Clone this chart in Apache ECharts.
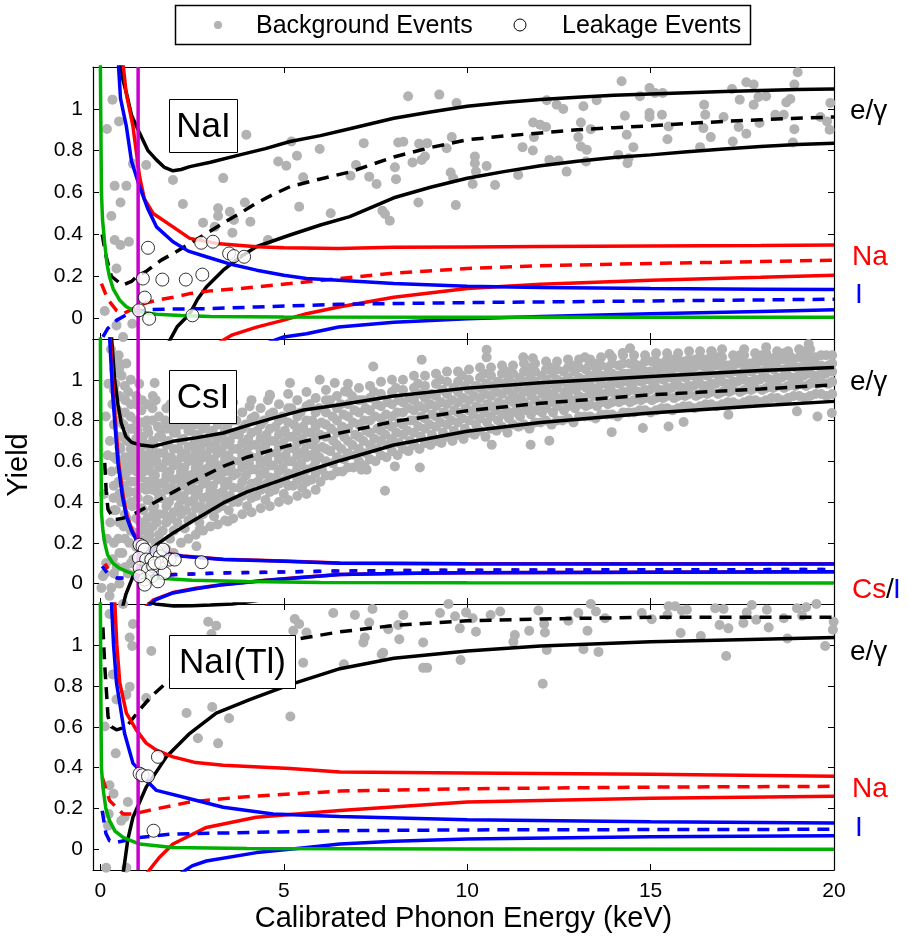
<!DOCTYPE html>
<html><head><meta charset="utf-8">
<script src="https://cdn.jsdelivr.net/npm/echarts@6/dist/echarts.min.js"></script>
<style>html,body{margin:0;padding:0;background:#fff}#c{width:908px;height:944px}</style>
</head><body><div id="c"></div>
<script>
// ---------- axes / ticks ----------
const xTicks = [0, 5, 10, 15, 20];
const yTicks = [0, 0.2, 0.4, 0.6, 0.8, 1];
const xRange = [-0.2, 20];
const yRange = [-0.1, 1.2];
const thresholdX = 1.03;
const panelNames = ['NaI', 'CsI', 'NaI(Tl)'];
const legendNames = ['Background Events', 'Leakage Events'];

// ---------- NaI ----------
const naiBg = [[0.33,1.044],[0.51,0.94],[0.18,0.904],[0.39,0.632],[0.71,0.632],[0.89,0.737],[1.25,0.732],[0.55,0.552],[0.3,0.488],[0.39,0.373],[0.55,0.349],[0.78,0.365],[0.44,0.237],[0.12,0.034],[0.44,-0.035],[0.87,-0.027],[0.62,-0.091],[1.98,0.66],[2.25,0.545],[2.8,0.456],[3.21,0.525],[3.21,0.488],[3.53,0.508],[3.64,0.469],[3.12,0.436],[3.6,0.408],[3.94,0.552],[4.09,0.46],[3.98,0.876],[4.57,0.373],[4.85,0.748],[5.07,0.728],[5.36,0.776],[5.21,0.844],[5.42,0.532],[5.53,0.673],[5.98,0.808],[6.28,0.501],[3.35,0.669],
[8.39,1.06],[9.24,1.068],[9.71,1.028],[7.18,0.836],[6.97,0.732],[6.82,0.68],[7.33,0.676],[7.53,0.641],[8.03,0.721],[8.06,0.664],[8.12,0.839],[8.26,0.843],[8.69,0.833],[8.91,0.836],[8.51,0.744],[8.76,0.756],[8.85,0.772],[9.58,0.865],[9.44,0.812],[9.55,0.696],[9.62,0.668],[10.21,0.772],[10.21,0.74],[10.24,0.7],[10.15,0.641],[10.53,0.727],[10.76,0.636],[8.67,0.552],[9.69,0.54],[7.89,0.465],[7.69,0.513],[7.76,0.497],[11.51,0.817],[11.39,0.684],[11.8,0.935],[11.99,0.924],[12.15,0.913],[11.82,0.865],[11.79,0.801],[12.24,0.756],[12.49,0.753],[12.71,0.7],[12.17,1.041],[12.44,1.02],[12.62,0.999],[13.17,1.012],[13.1,0.935],[13.03,0.865],[13.1,0.82],[13.26,0.804],[13.24,0.748],[13.37,0.903],[13.53,1.041],[14.21,1.132],[14.3,0.967],[14.35,0.876],[14.53,0.817],[14.4,0.764],[14.12,0.78],[14.37,0.74],[14.97,1.1],[15.12,1.076],[15.33,1.076],[14.71,1.06],[14.97,0.98],[14.97,0.961],[15.31,0.972],[15.49,0.916],[15.46,0.855],[16.46,1.02],[16.49,0.972],[16.44,0.908],[16.64,0.865],[16.35,0.817],[16.99,0.961],[17.22,1.095],[17.43,1.044],[17.4,0.913],[17.61,0.881],[17.24,0.844],[17.61,1.127],[17.81,1.116],[17.81,1.02],[17.94,1.057],[18.15,1.06],[17.97,0.932],[18.4,0.972],[18.63,0.972],[18.7,1.031],[18.81,1.047],[18.92,1.116],[19.01,1.175],[18.92,0.903],[18.88,0.839],[19.63,0.961],[19.9,1.028],[19.88,0.9],[19.81,0.94]];
const naiLeak = [[1.3,0.336],[1.16,0.189],[1.69,0.184],[2.33,0.184],[2.78,0.208],[2.75,0.36],[3.07,0.365],[3.51,0.309],[3.64,0.296],[3.92,0.293],[1.21,0.098],[1.05,0.037],[1.33,-0.003],[2.51,0.013]];
const naiEgHi = [[0.55,1.25],[0.6,1.15],[0.71,1.076],[0.85,0.97],[1.07,0.884],[1.3,0.8],[1.53,0.756],[1.75,0.72],[1.98,0.704],[2.2,0.71],[2.44,0.724],[3.0,0.745],[3.8,0.78],[4.5,0.81],[5.17,0.844],[6,0.872],[6.8,0.905],[8,0.955],[9,0.985],[10,1.012],[11,1.03],[12,1.045],[13,1.055],[14,1.065],[15,1.071],[16,1.077],[17,1.083],[18,1.088],[19,1.092],[20,1.095]];
const naiEgMid = [[0.05,0.4],[0.15,0.3],[0.3,0.2],[0.6,0.157],[0.85,0.175],[1.0,0.2],[1.24,0.222],[1.66,0.277],[2.0,0.31],[2.44,0.357],[2.9,0.405],[3.34,0.453],[3.8,0.5],[4.25,0.549],[4.7,0.59],[5.17,0.628],[6,0.665],[6.8,0.698],[8,0.77],[9,0.815],[10,0.852],[11,0.87],[12,0.885],[13,0.9],[14,0.91],[15,0.919],[16,0.93],[17,0.94],[18,0.948],[19,0.955],[20,0.961]];
const naiEgLo = [[1.85,-0.12],[2.1,-0.04],[2.44,0.021],[2.65,0.09],[2.89,0.149],[3.35,0.229],[3.8,0.29],[4.25,0.341],[5.17,0.397],[6,0.445],[6.8,0.485],[8,0.575],[9,0.625],[10,0.668],[11,0.7],[12,0.728],[13,0.75],[14,0.768],[15,0.78],[16,0.795],[17,0.808],[18,0.82],[19,0.83],[20,0.836]];
const naiNaHi = [[0.6,1.25],[0.7,1.08],[0.89,0.916],[1.07,0.676],[1.2,0.57],[1.44,0.5],[1.98,0.436],[2.44,0.381],[3.16,0.357],[4.26,0.341],[5,0.336],[6.5,0.333],[8,0.338],[10,0.34],[12,0.342],[15,0.345],[18,0.347],[20,0.349]];
const naiNaMid = [[0.03,0.165],[0.2,0.09],[0.44,0.037],[0.62,0.021],[0.9,0.045],[1.2,0.07],[1.53,0.085],[2.0,0.1],[2.44,0.117],[3.0,0.13],[3.8,0.141],[5.17,0.165],[6.5,0.189],[8,0.215],[10,0.237],[12,0.25],[15,0.261],[18,0.27],[20,0.277]];
const naiNaLo = [[3.21,-0.12],[3.6,-0.08],[4.26,-0.043],[5,-0.01],[5.62,0.021],[6.5,0.053],[8,0.1],[10,0.141],[12,0.162],[15,0.181],[18,0.195],[20,0.205]];
const naiIHi = [[0.48,1.25],[0.55,1.05],[0.71,0.916],[0.85,0.75],[1.07,0.628],[1.3,0.52],[1.53,0.436],[1.98,0.365],[2.4,0.32],[2.89,0.293],[3.5,0.26],[4.26,0.229],[5,0.205],[5.62,0.189],[6.5,0.181],[8,0.165],[10,0.152],[12,0.146],[15,0.141],[18,0.138],[20,0.136]];
const naiIMid = [[0.07,-0.09],[0.2,-0.05],[0.44,-0.011],[0.7,0.015],[0.89,0.029],[1.3,0.04],[2,0.043],[2.89,0.045],[4.26,0.053],[6.5,0.066],[10,0.074],[15,0.082],[20,0.09]];
const naiILo = [[4.53,-0.12],[5.0,-0.09],[5.62,-0.075],[6.5,-0.043],[8,-0.02],[10,-0.003],[12,0.008],[15,0.021],[18,0.032],[20,0.04]];
const naiGreen = [[0.0,1.25],[0.01,1.0],[0.03,0.6],[0.06,0.47],[0.12,0.357],[0.18,0.26],[0.25,0.197],[0.35,0.14],[0.53,0.085],[0.7,0.055],[0.89,0.037],[1.2,0.025],[1.53,0.018],[2.2,0.012],[3,0.008],[5,0.005],[10,0.004],[20,0.004]];

// ---------- CsI ----------
const csiBg = [[0.12,0.05],[0.18,0.22],[0.1,0.44],[0.2,0.63],[0.15,0.82],[0.22,0.98],
[0.3,-0.02],[0.34,0.12],[0.27,0.3],[0.36,0.42],[0.31,0.55],[0.26,0.7],[0.33,0.88],[0.38,1.05],[0.29,1.15],
[0.45,0.08],[0.49,0.22],[0.42,0.36],[0.5,0.5],[0.44,0.61],[0.52,0.72],[0.47,0.85],[0.41,0.98],[0.5,1.12],
[0.6,0.15],[0.64,0.28],[0.57,0.4],[0.66,0.48],[0.61,0.58],[0.55,0.66],[0.63,0.78],[0.68,0.9],[0.58,1.02],
[0.75,0.05],[0.79,0.2],[0.72,0.32],[0.8,0.45],[0.74,0.55],[0.78,0.62],[0.71,0.7],[0.82,0.82],[0.76,0.94],
[0.9,0.12],[0.94,0.25],[0.87,0.38],[0.95,0.5],[0.89,0.6],[0.92,0.68],[0.86,0.76],[0.97,0.88],
[1.05,0.22],[1.09,0.3],[1.02,0.42],[1.1,0.52],[1.04,0.58],[1.08,0.66],[1.01,0.75],[1.12,0.85],[1.06,0.98],
[1.2,0.18],[1.24,0.28],[1.17,0.36],[1.25,0.46],[1.19,0.55],[1.23,0.63],[1.16,0.72],[1.27,0.8],
[1.35,0.24],[1.39,0.33],[1.32,0.41],[1.4,0.5],[1.34,0.58],[1.38,0.66],[1.31,0.74],[1.42,0.86],
[1.5,0.2],[1.54,0.3],[1.47,0.38],[1.55,0.45],[1.49,0.53],[1.53,0.6],[1.46,0.68],[1.57,0.77],[1.51,0.9],
[1.7,0.26],[1.74,0.34],[1.67,0.42],[1.75,0.5],[1.69,0.57],[1.73,0.64],[1.66,0.72],[1.77,0.8],
[1.9,0.22],[1.94,0.32],[1.87,0.4],[1.95,0.47],[1.89,0.55],[1.93,0.62],[1.86,0.7],[1.97,0.78],[1.91,0.88],
[2.1,0.3],[2.14,0.38],[2.07,0.45],[2.15,0.52],[2.09,0.59],[2.13,0.66],[2.06,0.74],[2.17,0.82],
[2.3,0.27],[2.34,0.36],[2.27,0.43],[2.35,0.5],[2.29,0.57],[2.33,0.64],[2.26,0.71],[2.37,0.79],
[2.5,0.33],[2.54,0.41],[2.47,0.48],[2.55,0.54],[2.49,0.61],[2.53,0.68],[2.46,0.75],[2.57,0.85],
[2.7,0.3],[2.74,0.38],[2.67,0.46],[2.75,0.53],[2.69,0.6],[2.73,0.66],[2.66,0.73],[2.77,0.8],
[2.9,0.36],[2.94,0.43],[2.87,0.5],[2.95,0.57],[2.89,0.63],[2.93,0.7],[2.86,0.78],
[3.1,0.33],[3.14,0.41],[3.07,0.48],[3.15,0.55],[3.09,0.61],[3.13,0.68],[3.06,0.75],[3.17,0.83],
[3.3,0.38],[3.34,0.45],[3.27,0.52],[3.35,0.58],[3.29,0.65],[3.33,0.72],[3.26,0.8],
[3.5,0.36],[3.54,0.43],[3.47,0.5],[3.55,0.57],[3.49,0.63],[3.53,0.7],[3.46,0.77],[3.57,0.86],
[3.75,0.4],[3.79,0.47],[3.72,0.54],[3.8,0.6],[3.74,0.66],[3.78,0.73],[3.71,0.8],
[4.0,0.38],[4.04,0.46],[3.97,0.53],[4.05,0.59],[3.99,0.65],[4.03,0.71],[3.96,0.78],[4.07,0.87],
[4.25,0.43],[4.29,0.5],[4.22,0.56],[4.3,0.62],[4.24,0.68],[4.28,0.75],[4.21,0.82],
[4.5,0.41],[4.54,0.49],[4.47,0.55],[4.55,0.61],[4.49,0.67],[4.53,0.73],[4.46,0.8],[4.57,0.9],
[4.75,0.46],[4.79,0.52],[4.72,0.58],[4.8,0.64],[4.74,0.7],[4.78,0.77],[4.71,0.84],
[5.0,0.44],[5.04,0.51],[4.97,0.57],[5.05,0.63],[4.99,0.69],[5.03,0.75],[4.96,0.82],
[5.25,0.48],[5.29,0.54],[5.22,0.6],[5.3,0.66],[5.24,0.72],[5.28,0.78],[5.21,0.86],
[5.5,0.47],[5.54,0.53],[5.47,0.59],[5.55,0.65],[5.49,0.71],[5.53,0.77],[5.46,0.84],
[5.75,0.51],[5.79,0.57],[5.72,0.63],[5.8,0.68],[5.74,0.74],[5.78,0.8],[5.71,0.88],
[6.0,0.5],[6.04,0.56],[5.97,0.62],[6.05,0.67],[5.99,0.73],[6.03,0.79],[5.96,0.86],
[6.3,0.53],[6.34,0.59],[6.27,0.65],[6.35,0.7],[6.29,0.76],[6.33,0.82],[6.26,0.9],
[6.6,0.55],[6.64,0.61],[6.57,0.66],[6.65,0.72],[6.59,0.77],[6.63,0.83],[6.56,0.88],
[6.9,0.57],[6.94,0.63],[6.87,0.68],[6.95,0.73],[6.89,0.79],[6.93,0.85],[6.86,0.92],
[7.2,0.58],[7.24,0.64],[7.17,0.7],[7.25,0.75],[7.19,0.8],[7.23,0.86],[7.16,0.9],
[7.5,0.6],[7.54,0.66],[7.47,0.71],[7.55,0.76],[7.49,0.82],[7.53,0.88],[7.46,0.94],
[7.8,0.62],[7.84,0.68],[7.77,0.73],[7.85,0.78],[7.79,0.83],[7.83,0.89],
[8.1,0.63],[8.14,0.69],[8.07,0.74],[8.15,0.79],[8.09,0.84],[8.13,0.9],[8.06,0.96],
[8.4,0.65],[8.44,0.7],[8.37,0.75],[8.45,0.8],[8.39,0.86],[8.43,0.91],
[8.7,0.66],[8.74,0.72],[8.67,0.77],[8.75,0.82],[8.69,0.87],[8.73,0.93],[8.66,0.98],
[9.0,0.68],[9.04,0.73],[8.97,0.78],[9.05,0.83],[8.99,0.88],[9.03,0.93],
[9.3,0.69],[9.34,0.74],[9.27,0.79],[9.35,0.84],[9.29,0.89],[9.33,0.95],[9.26,1.0],
[9.6,0.7],[9.64,0.75],[9.57,0.8],[9.65,0.85],[9.59,0.9],[9.63,0.96],
[9.9,0.71],[9.94,0.76],[9.87,0.81],[9.95,0.86],[9.89,0.91],[9.93,0.97],[9.86,1.02],
[10.2,0.73],[10.24,0.78],[10.17,0.83],[10.25,0.87],[10.19,0.92],[10.23,0.97],
[10.5,0.72],[10.54,0.79],[10.47,0.84],[10.55,0.88],[10.49,0.93],[10.53,0.98],[10.46,1.03],
[10.8,0.75],[10.84,0.8],[10.77,0.85],[10.85,0.89],[10.79,0.94],[10.83,0.99],
[11.1,0.74],[11.14,0.81],[11.07,0.85],[11.15,0.9],[11.09,0.95],[11.13,1.0],[11.06,1.04],
[11.4,0.77],[11.44,0.82],[11.37,0.86],[11.45,0.91],[11.39,0.96],[11.43,1.01],
[11.7,0.76],[11.74,0.83],[11.67,0.87],[11.75,0.92],[11.69,0.96],[11.73,1.01],[11.66,1.05],
[12.0,0.79],[12.04,0.84],[11.97,0.88],[12.05,0.93],[11.99,0.97],[12.03,1.02],
[12.3,0.78],[12.34,0.84],[12.27,0.89],[12.35,0.93],[12.29,0.98],[12.33,1.03],[12.26,1.06],
[12.6,0.8],[12.64,0.85],[12.57,0.9],[12.65,0.94],[12.59,0.99],[12.63,1.04],
[12.9,0.79],[12.94,0.86],[12.87,0.9],[12.95,0.95],[12.89,0.99],[12.93,1.04],[12.86,1.07],
[13.2,0.82],[13.24,0.87],[13.17,0.91],[13.25,0.96],[13.19,1.0],[13.23,1.05],
[13.5,0.81],[13.54,0.87],[13.47,0.92],[13.55,0.96],[13.49,1.01],[13.53,1.05],[13.46,1.08],
[13.8,0.83],[13.84,0.88],[13.77,0.93],[13.85,0.97],[13.79,1.02],[13.83,1.06],
[14.1,0.82],[14.14,0.89],[14.07,0.93],[14.15,0.98],[14.09,1.02],[14.13,1.07],
[14.4,0.84],[14.44,0.89],[14.37,0.94],[14.45,0.98],[14.39,1.03],[14.43,1.08],
[14.7,0.85],[14.74,0.9],[14.67,0.94],[14.75,0.99],[14.69,1.03],[14.73,1.07],
[15.0,0.84],[15.04,0.9],[14.97,0.95],[15.05,0.99],[14.99,1.04],[15.03,1.09],
[15.3,0.86],[15.34,0.91],[15.27,0.95],[15.35,1.0],[15.29,1.04],[15.33,1.08],
[15.6,0.85],[15.64,0.91],[15.57,0.96],[15.65,1.0],[15.59,1.05],[15.63,1.1],
[15.9,0.87],[15.94,0.92],[15.87,0.96],[15.95,1.01],[15.89,1.05],[15.93,1.09],
[16.2,0.86],[16.24,0.92],[16.17,0.97],[16.25,1.01],[16.19,1.06],[16.23,1.1],
[16.5,0.88],[16.54,0.93],[16.47,0.97],[16.55,1.02],[16.49,1.06],[16.53,1.1],
[16.8,0.87],[16.84,0.93],[16.77,0.98],[16.85,1.02],[16.79,1.07],[16.83,1.11],
[17.1,0.89],[17.14,0.94],[17.07,0.98],[17.15,1.03],[17.09,1.07],
[17.4,0.88],[17.44,0.94],[17.37,0.99],[17.45,1.03],[17.39,1.08],[17.43,1.12],
[17.7,0.9],[17.74,0.95],[17.67,0.99],[17.75,1.04],[17.69,1.08],
[18.0,0.89],[18.04,0.95],[17.97,1.0],[18.05,1.04],[17.99,1.09],[18.03,1.12],
[18.3,0.91],[18.34,0.96],[18.27,1.0],[18.35,1.05],[18.29,1.09],
[18.6,0.9],[18.64,0.96],[18.57,1.01],[18.65,1.05],[18.59,1.1],[18.63,1.13],
[18.9,0.92],[18.94,0.97],[18.87,1.01],[18.95,1.06],[18.89,1.1],
[19.2,0.91],[19.24,0.97],[19.17,1.02],[19.25,1.06],[19.19,1.1],[19.23,1.14],
[19.5,0.93],[19.54,0.98],[19.47,1.02],[19.55,1.07],[19.49,1.11],
[19.8,0.92],[19.84,0.98],[19.77,1.03],[19.85,1.07],[19.79,1.12],
[7.44,1.065],[8.76,1.098],[10.53,1.147],[10.53,1.11],[11.53,1.11],[11.79,1.106],[11.79,1.065],[13.21,1.11],[13.33,1.074],[13.88,1.126],[14.24,1.131],[14.44,1.155],[16.67,1.139],[19.31,1.175],[7.76,0.456],[8.03,0.575],[8.71,0.57],[7.12,0.559],[7.26,0.559],[11.73,0.681],[12.24,0.701],[13.94,0.743],[14.79,0.763],[15.49,0.771],[15.9,0.793],[17.12,0.829],[18.99,0.845],[19.55,0.82],[19.94,0.837],[6.67,0.943],[10.67,0.681],[16.24,1.077],[17.9,1.082],[18.35,1.106],[18.81,1.114],[15.4,1.082],[15.62,1.09],
[1.48,0.984],[0.48,1.09],[0.71,1.08],[0.53,1.03],[1.66,0.755],[2.16,0.779],[5.17,0.984],[5.98,1.0],[6.39,0.984],[4.62,0.926],[2.62,0.183],[3.48,0.305],[2.71,0.265],[0.07,0.036],[0.16,0.101],[0.03,-0.021],[0.25,-0.06]];
// second pass of CsI events, read column by column: [energy, [yields...]]
const csiBgCols = [
[0.37,[0.05,0.2,0.36,0.48,0.62,0.78,0.95,1.1]],[0.52,[0.0,0.15,0.3,0.44,0.56,0.67,0.8,0.92,1.06]],
[0.67,[0.08,0.22,0.34,0.44,0.53,0.62,0.72,0.84,0.97]],[0.83,[0.1,0.26,0.4,0.5,0.58,0.66,0.76,0.88,1.0]],
[0.98,[0.05,0.18,0.32,0.45,0.55,0.63,0.71,0.8,0.92]],[1.13,[0.1,0.26,0.37,0.47,0.56,0.62,0.7,0.79,0.9]],
[1.28,[0.12,0.22,0.32,0.41,0.5,0.59,0.68,0.76,0.88]],[1.43,[0.16,0.28,0.37,0.46,0.54,0.62,0.7,0.8,0.92]],
[1.6,[0.14,0.24,0.34,0.42,0.49,0.57,0.64,0.72,0.82]],[1.8,[0.17,0.3,0.38,0.46,0.53,0.6,0.68,0.76,0.86]],
[2.0,[0.15,0.26,0.35,0.43,0.51,0.58,0.66,0.74,0.83]],[2.2,[0.2,0.34,0.41,0.48,0.55,0.62,0.7,0.78,0.88]],
[2.4,[0.22,0.31,0.4,0.46,0.53,0.6,0.67,0.75,0.83]],[2.6,[0.24,0.37,0.44,0.51,0.57,0.64,0.71,0.78,0.88]],
[2.8,[0.26,0.34,0.42,0.49,0.56,0.62,0.69,0.76,0.84]],[3.0,[0.28,0.39,0.46,0.53,0.6,0.66,0.73,0.81,0.88]],
[3.2,[0.29,0.37,0.44,0.51,0.58,0.64,0.71,0.78,0.86]],[3.4,[0.31,0.41,0.48,0.55,0.61,0.68,0.75,0.83]],
[3.62,[0.32,0.4,0.47,0.53,0.6,0.66,0.73,0.8,0.89]],[3.87,[0.34,0.43,0.5,0.57,0.63,0.69,0.76,0.84]],
[4.12,[0.35,0.42,0.49,0.56,0.62,0.68,0.74,0.81,0.9]],[4.37,[0.37,0.46,0.53,0.59,0.65,0.71,0.78,0.86]],
[4.62,[0.38,0.45,0.52,0.58,0.64,0.7,0.76,0.83,0.92]],[4.87,[0.4,0.49,0.55,0.61,0.67,0.73,0.8,0.88]],
[5.12,[0.41,0.48,0.54,0.6,0.66,0.72,0.79,0.86,0.93]],[5.37,[0.43,0.51,0.57,0.63,0.69,0.75,0.82,0.9]],
[5.62,[0.44,0.5,0.56,0.62,0.68,0.74,0.8,0.87,0.94]],[5.87,[0.46,0.54,0.6,0.65,0.71,0.77,0.84,0.91]],
[6.15,[0.53,0.6,0.66,0.72,0.78,0.84,0.9,0.95]],[6.45,[0.55,0.62,0.68,0.74,0.8,0.86,0.92]],
[6.75,[0.57,0.64,0.7,0.76,0.82,0.88,0.94,0.98]],[7.05,[0.6,0.66,0.72,0.78,0.84,0.9,0.96]],
[7.35,[0.61,0.68,0.74,0.8,0.85,0.91,0.97]],[7.65,[0.63,0.7,0.75,0.81,0.87,0.93,0.99]],
[7.95,[0.65,0.71,0.77,0.82,0.88,0.94,1.0]],[8.25,[0.66,0.73,0.78,0.84,0.89,0.95,1.0]],
[8.55,[0.68,0.74,0.8,0.85,0.9,0.96,1.02]],[8.85,[0.69,0.76,0.81,0.86,0.91,0.97,1.02]],
[9.15,[0.7,0.77,0.82,0.87,0.92,0.98,1.03]],[9.45,[0.72,0.78,0.83,0.88,0.93,0.99,1.04]],
[9.75,[0.73,0.79,0.84,0.89,0.94,0.99,1.04]],[10.05,[0.74,0.8,0.85,0.9,0.95,1.0,1.05]],
[10.35,[0.75,0.81,0.86,0.91,0.96,1.01,1.06]],[10.65,[0.76,0.82,0.87,0.92,0.97,1.02,1.06]],
[10.95,[0.77,0.83,0.88,0.93,0.98,1.03,1.07]],[11.25,[0.78,0.84,0.89,0.93,0.98,1.03,1.07]],
[11.55,[0.78,0.85,0.89,0.94,0.99,1.04,1.08]],[11.85,[0.79,0.85,0.9,0.95,0.99,1.04,1.08]],
[12.15,[0.8,0.86,0.91,0.95,1.0,1.05,1.09]],[12.45,[0.8,0.87,0.91,0.96,1.0,1.05,1.09]],
[12.75,[0.81,0.87,0.92,0.96,1.01,1.06,1.1]],[13.05,[0.82,0.88,0.92,0.97,1.01,1.06,1.1]],
[13.35,[0.82,0.88,0.93,0.97,1.02,1.07,1.1]],[13.65,[0.83,0.89,0.93,0.98,1.02,1.07,1.11]],
[13.95,[0.83,0.89,0.94,0.98,1.03,1.08,1.11]],[14.25,[0.84,0.9,0.94,0.99,1.03,1.08,1.12]],
[14.55,[0.84,0.9,0.95,0.99,1.04,1.08,1.12]],[14.85,[0.85,0.91,0.95,1.0,1.04,1.09,1.12]],
[15.15,[0.85,0.91,0.96,1.0,1.05,1.09,1.13]],[15.45,[0.86,0.92,0.96,1.01,1.05,1.1,1.13]],
[15.75,[0.86,0.92,0.97,1.01,1.06,1.1,1.13]],[16.05,[0.87,0.93,0.97,1.02,1.06,1.1,1.14]],
[16.35,[0.87,0.93,0.98,1.02,1.07,1.11,1.14]],[16.65,[0.88,0.94,0.98,1.03,1.07,1.11,1.14]],
[16.95,[0.88,0.94,0.99,1.03,1.07,1.11,1.15]],[17.25,[0.89,0.95,0.99,1.04,1.08,1.12]],
[17.55,[0.89,0.95,1.0,1.04,1.08,1.12,1.15]],[17.85,[0.9,0.96,1.0,1.05,1.09,1.13]],
[18.15,[0.9,0.96,1.01,1.05,1.09,1.13,1.16]],[18.45,[0.91,0.97,1.01,1.06,1.1,1.14]],
[18.75,[0.91,0.97,1.02,1.06,1.1,1.14]],[19.05,[0.92,0.98,1.02,1.06,1.11,1.15]],
[19.35,[0.92,0.98,1.03,1.07,1.11,1.15]],[19.65,[0.93,0.99,1.03,1.07,1.12]],
[19.95,[0.93,0.99,1.04,1.08,1.12]]];
const csiLeak = [[1.07,0.191],[1.15,0.183],[1.21,0.167],[1.05,0.126],[1.25,0.118],[1.39,0.118],[1.53,0.158],[1.62,0.134],[1.71,0.167],[1.89,0.118],[2.03,0.118],[2.76,0.105],[1.07,0.077],[1.3,0.069],[1.44,0.085],[1.75,0.052],[1.21,0.02],[1.39,0.036],[1.57,0.011],[1.21,-0.005],[1.07,0.036],[1.48,0.101],[1.66,0.101]];
const csiEgHi = [[0.3,1.22],[0.39,1.0],[0.48,0.88],[0.57,0.788],[0.7,0.72],[0.85,0.693],[1.1,0.68],[1.44,0.673],[1.98,0.698],[2.6,0.715],[3.35,0.739],[4,0.775],[4.71,0.812],[5.5,0.85],[6.53,0.877],[8,0.92],[10,0.959],[12,0.985],[15,1.016],[18,1.045],[20,1.06]];
const csiEgMid = [[0.12,0.592],[0.16,0.45],[0.21,0.363],[0.39,0.314],[0.6,0.32],[0.89,0.338],[1.2,0.37],[1.53,0.403],[2.0,0.45],[2.44,0.494],[3.35,0.575],[4,0.62],[4.71,0.657],[5.6,0.7],[6.53,0.739],[8,0.795],[10,0.848],[12,0.885],[15,0.926],[18,0.955],[20,0.975]];
const csiEgLo = [[0.6,-0.12],[0.7,-0.05],[0.89,0.036],[1.2,0.12],[1.53,0.191],[2.0,0.25],[2.44,0.298],[3.35,0.396],[4,0.45],[4.71,0.494],[5.6,0.55],[6.53,0.603],[8,0.68],[10,0.747],[12,0.79],[15,0.837],[18,0.872],[20,0.894]];
const csiCsHi = [[0.27,1.22],[0.36,0.92],[0.43,0.75],[0.5,0.59],[0.62,0.43],[0.73,0.33],[0.87,0.26],[1.0,0.218],[1.2,0.185],[1.53,0.157],[2.25,0.136],[3.35,0.12],[5,0.111],[6.53,0.101],[10,0.098],[15,0.097],[20,0.097]];
const csiCsMid = [[0.05,0.134],[0.15,0.09],[0.3,0.045],[0.5,0.025],[0.89,0.03],[1.98,0.045],[3.35,0.053],[6.53,0.062],[10,0.066],[15,0.068],[20,0.069]];
const csiCsLo = [[1.2,-0.12],[1.45,-0.08],[1.98,-0.044],[2.6,-0.023],[3.35,-0.004],[4.5,0.016],[5.5,0.031],[6.53,0.045],[8,0.05],[10,0.053],[15,0.056],[20,0.058]];
const csiIHi = [[0.25,1.22],[0.34,0.918],[0.41,0.75],[0.48,0.592],[0.6,0.43],[0.71,0.33],[0.85,0.26],[0.98,0.216],[1.2,0.18],[1.53,0.154],[2.25,0.134],[3.35,0.118],[5,0.11],[6.53,0.1],[10,0.097],[15,0.096],[20,0.096]];
const csiIMid = [[0.05,0.085],[0.2,0.05],[0.44,0.028],[0.89,0.028],[1.98,0.044],[3.35,0.052],[6.53,0.062],[10,0.066],[15,0.068],[20,0.069]];
const csiILo = [[1.25,-0.12],[1.5,-0.08],[1.98,-0.046],[2.6,-0.025],[3.35,-0.005],[4.5,0.015],[5.5,0.03],[6.53,0.045],[8,0.05],[10,0.053],[15,0.056],[20,0.058]];
const csiGreen = [[0.0,1.25],[0.01,0.9],[0.02,0.6],[0.03,0.35],[0.07,0.26],[0.12,0.2],[0.2,0.14],[0.34,0.101],[0.5,0.078],[0.71,0.06],[1.0,0.042],[1.53,0.028],[2.5,0.016],[4,0.01],[6,0.006],[10,0.004],[20,0.003]];

// ---------- NaI(Tl) ----------
const tlBg = [[0.62,1.2],[2.94,1.113],[3.16,1.094],[3.03,1.053],[5.3,1.127],[5.42,1.102],[5.62,1.061],[5.26,1.069],[6.35,1.156],[0.8,1.036],[0.87,0.995],[1.39,0.97],[0.34,0.856],[0.8,0.795],[0.71,0.757],[1.25,0.741],[0.44,0.733],[0.12,0.601],[2.35,0.667],[3.05,0.697],[3.51,0.642],[3.21,0.519],[2.66,0.544],[5.53,0.913],[5.18,0.65],[0.42,0.47],[0.25,0.314],[0.36,0.273],[0.75,0.232],[0.23,0.174],[0.57,0.141],[0.66,0.158],[0.21,0.117],[0.16,-0.089],[0.71,-0.089],[0.25,1.151],[0.89,1.102],
[6.94,1.146],[7.42,1.176],[7.33,1.11],[7.21,1.036],[7.17,1.012],[7.67,0.954],[7.71,0.962],[7.85,1.077],[8.12,1.097],[8.26,1.146],[8.15,1.028],[8.8,1.012],[8.8,0.888],[8.91,0.888],[9.26,1.156],[9.49,1.2],[9.67,1.14],[9.8,1.081],[9.97,1.159],[10.15,1.13],[10.24,1.064],[9.82,0.926],[10.64,1.146],[10.9,1.163],[11.3,1.048],[11.26,1.015],[11.69,1.069],[11.99,1.205],[11.94,1.168],[12.1,1.102],[12.12,1.061],[12.17,0.975],[12.06,0.81],[12.76,1.118],[13.03,1.156],[13.28,1.069],[13.17,0.979],[13.37,1.2],[13.51,1.163],[13.58,0.966],[13.76,1.13],[14.76,1.156],[15.03,1.126],[15.49,1.189],[15.67,1.189],[15.46,1.146],[15.85,1.168],[15.99,1.172],[15.82,1.058],[16.37,1.044],[16.76,1.179],[16.99,1.176],[16.88,1.097],[17.12,1.081],[17.06,0.946],[17.62,1.159],[17.53,1.107],[17.76,1.195],[17.88,1.123],[18.17,1.172],[18.22,1.085],[18.63,1.13],[18.73,1.031],[18.99,1.179],[19.24,1.184],[19.52,1.2],[19.13,1.143],[19.76,0.995],[19.99,1.113],[19.97,1.074],[6.64,0.905]];
const tlLeak = [[1.57,0.453],[1.07,0.371],[1.15,0.363],[1.3,0.358],[1.45,0.092]];
const tlEgHi = [[0.9,1.45],[1.1,1.28],[1.3,1.215],[1.5,1.2],[2.0,1.19],[2.5,1.192],[3.0,1.195],[3.6,1.2],[4.2,1.215],[5,1.24],[6,1.26],[10,1.3],[20,1.35]];
const tlEgMid = [[0.07,1.086],[0.12,0.9],[0.21,0.65],[0.3,0.6],[0.44,0.585],[0.71,0.6],[1.07,0.683],[1.4,0.75],[1.8,0.815],[2.5,0.9],[3.2,0.96],[4,1.0],[5.35,1.028],[6.53,1.064],[8,1.095],[10,1.118],[12,1.127],[15,1.135],[20,1.135]];
const tlEgLo = [[0.62,-0.12],[0.75,0.05],[0.89,0.158],[1.25,0.305],[1.8,0.453],[2.44,0.568],[3.16,0.667],[4.07,0.733],[5.17,0.806],[6.53,0.884],[8,0.935],[10,0.97],[12,0.995],[15,1.015],[18,1.028],[20,1.036]];
const tlNaHi = [[0.39,1.22],[0.45,1.0],[0.53,0.815],[0.71,0.667],[0.98,0.585],[1.25,0.52],[1.53,0.486],[1.98,0.453],[2.6,0.425],[3.35,0.412],[5.17,0.396],[6.53,0.379],[10,0.374],[15,0.368],[20,0.358]];
const tlNaMid = [[0.05,0.355],[0.25,0.24],[0.62,0.174],[0.89,0.174],[1.53,0.199],[2.44,0.232],[3.8,0.256],[6.53,0.286],[10,0.297],[15,0.305],[20,0.309]];
const tlNaLo = [[1.25,-0.12],[1.6,-0.04],[1.98,0.027],[2.89,0.108],[4.25,0.158],[6.53,0.191],[10,0.232],[15,0.251],[20,0.26]];
const tlIHi = [[0.3,1.22],[0.36,1.0],[0.44,0.815],[0.66,0.568],[0.89,0.421],[1.16,0.371],[1.3,0.33],[1.53,0.289],[2.44,0.248],[3.35,0.207],[4.71,0.174],[6.53,0.161],[10,0.145],[15,0.136],[20,0.13]];
const tlIMid = [[0.05,0.19],[0.15,0.08],[0.25,0.043],[0.44,0.035],[1.07,0.059],[1.98,0.076],[6.53,0.092],[10,0.096],[20,0.099]];
const tlILo = [[2.16,-0.12],[2.5,-0.08],[2.89,-0.056],[4.26,-0.015],[5.5,0.008],[6.53,0.027],[8,0.04],[10,0.051],[15,0.063],[20,0.067]];
const tlGreen = [[0.0,1.25],[0.01,0.9],[0.02,0.6],[0.03,0.4],[0.07,0.305],[0.15,0.2],[0.25,0.141],[0.4,0.09],[0.62,0.059],[1.07,0.027],[1.98,0.01],[4,0.005],[10,0.003],[20,0.002]];

// ---------- styling ----------
const BLACK = '#000', RED = '#ff0000', BLUE = '#0000ff', GREEN = '#00b000', MAGENTA = '#cc00cc', GRAY = '#b2b2b2';
const FONT = "'Liberation Sans', Arial, Helvetica, sans-serif";

const csiBgAll = csiBg.concat(...csiBgCols.map(([x, ys]) => ys.map(y => [x, y])));

const panels = [
  {bg: naiBg, leak: naiLeak, curves: [
    [naiEgHi, BLACK, 'solid'], [naiEgMid, BLACK, 'dash'], [naiEgLo, BLACK, 'solid'],
    [naiNaHi, RED, 'solid'], [naiNaMid, RED, 'dash'], [naiNaLo, RED, 'solid'],
    [naiIHi, BLUE, 'solid'], [naiIMid, BLUE, 'dash'], [naiILo, BLUE, 'solid'],
    [naiGreen, GREEN, 'solid']]},
  {bg: csiBgAll, leak: csiLeak, curves: [
    [csiEgHi, BLACK, 'solid'], [csiEgMid, BLACK, 'dash'], [csiEgLo, BLACK, 'solid'],
    [csiCsHi, RED, 'solid'], [csiCsMid, RED, 'dashB'], [csiCsLo, RED, 'solid'],
    [csiIHi, BLUE, 'solid'], [csiIMid, BLUE, 'dashA'], [csiILo, BLUE, 'solid'],
    [csiGreen, GREEN, 'solid']]},
  {bg: tlBg, leak: tlLeak, curves: [
    [tlEgHi, BLACK, 'solid'], [tlEgMid, BLACK, 'dash'], [tlEgLo, BLACK, 'solid'],
    [tlNaHi, RED, 'solid'], [tlNaMid, RED, 'dash'], [tlNaLo, RED, 'solid'],
    [tlIHi, BLUE, 'solid'], [tlIMid, BLUE, 'dash'], [tlILo, BLUE, 'solid'],
    [tlGreen, GREEN, 'solid']]}
];

const grids = [
  {left: 93, right: 74, top: 67, height: 272},
  {left: 93, right: 74, top: 339, height: 265},
  {left: 93, right: 74, top: 604, height: 266}
];

const xAxes = [], yAxes = [], series = [];
grids.forEach((g, i) => {
  const common = {type: 'value', gridIndex: i, min: xRange[0], max: xRange[1], splitLine: {show: false},
    axisLine: {show: true, onZero: false, lineStyle: {color: '#000', width: 1.2}},
    axisTick: {show: true, inside: true, length: 6, customValues: xTicks, lineStyle: {color: '#000'}}};
  xAxes.push(Object.assign({}, common, {position: 'bottom',
    axisLabel: {show: i === 2, customValues: xTicks, color: '#000', fontSize: 21, fontFamily: FONT, margin: 11},
    name: i === 2 ? 'Calibrated Phonon Energy (keV)' : '', nameLocation: 'middle', nameGap: 34,
    nameTextStyle: {fontSize: 29, fontFamily: FONT, color: '#000', verticalAlign: 'top'}}));
  xAxes.push(Object.assign({}, common, {position: 'top', axisLabel: {show: false}}));
  const ycommon = {type: 'value', gridIndex: i, min: yRange[0], max: yRange[1], splitLine: {show: false},
    axisLine: {show: true, onZero: false, lineStyle: {color: '#000', width: 1.2}},
    axisTick: {show: true, inside: true, length: 6, customValues: yTicks, lineStyle: {color: '#000'}}};
  yAxes.push(Object.assign({}, ycommon, {position: 'left',
    axisLabel: {show: true, customValues: yTicks, color: '#000', fontSize: 21, fontFamily: FONT, margin: 10}}));
  yAxes.push(Object.assign({}, ycommon, {position: 'right', axisLabel: {show: false}}));

  const p = panels[i];
  const ax = {xAxisIndex: 2 * i, yAxisIndex: 2 * i};
  series.push(Object.assign({type: 'scatter', name: legendNames[0], data: p.bg, symbol: 'circle', symbolSize: 10,
    itemStyle: {color: GRAY, opacity: 1}, z: 1, silent: true, clip: true, large: false}, ax));
  p.curves.forEach(([data, color, kind]) => {
    let type = 'solid', dashOffset = 0;
    if (kind === 'dash') type = [12, 8];
    if (kind === 'dashA') type = [8, 10];
    if (kind === 'dashB') { type = [6, 12]; dashOffset = 10; }
    series.push(Object.assign({type: 'line', data: data, showSymbol: false, symbol: 'none', clip: true, silent: true,
      lineStyle: {color: color, width: 3.5, type: type, dashOffset: dashOffset, cap: 'butt'},
      z: 2 + (color === GREEN ? 1 : 0) + (kind === 'dashA' ? 0.5 : 0)}, ax));
  });
  series.push(Object.assign({type: 'line', data: [[thresholdX, yRange[0]], [thresholdX, yRange[1]]], showSymbol: false,
    symbol: 'none', silent: true, lineStyle: {color: MAGENTA, width: 3.5}, z: 4}, ax));
  series.push(Object.assign({type: 'scatter', name: legendNames[1], data: p.leak, symbol: 'circle', symbolSize: 13,
    itemStyle: {color: '#fff', borderColor: '#000', borderWidth: 1}, z: 5, silent: true}, ax));
});

const labelBoxes = [
  {x: 169, y: 99, w: 68, h: 53},
  {x: 169, y: 370, w: 67, h: 53},
  {x: 169, y: 635, w: 126, h: 53}
];
const graphics = [];
labelBoxes.forEach((b, i) => {
  graphics.push({type: 'rect', z: 100, shape: {x: b.x + 0.5, y: b.y + 0.5, width: b.w, height: b.h},
    style: {fill: '#fff', stroke: '#000', lineWidth: 1}});
  graphics.push({type: 'text', z: 101, x: b.x + b.w / 2 + 0.5, y: b.y + b.h / 2 + 2,
    style: {text: panelNames[i], fill: '#000', font: '35px ' + FONT, textAlign: 'center', textVerticalAlign: 'middle'}});
});
const sideLabels = [
  ['e/γ', '#000', 850, 111], ['Na', RED, 852, 257], ['I', BLUE, 855, 295],
  ['e/γ', '#000', 850, 382],
  ['e/γ', '#000', 850, 652], ['Na', RED, 852, 789], ['I', BLUE, 855, 828]
];
sideLabels.forEach(([t, c, x, y]) => graphics.push({type: 'text', z: 101, x: x, y: y,
  style: {text: t, fill: c, font: '28px ' + FONT, textAlign: 'left', textVerticalAlign: 'middle'}}));
graphics.push({type: 'text', z: 101, x: 852, y: 590, style: {text: 'Cs', fill: RED, font: '28px ' + FONT, textVerticalAlign: 'middle'}});
graphics.push({type: 'text', z: 101, x: 886, y: 590, style: {text: '/', fill: '#000', font: '28px ' + FONT, textVerticalAlign: 'middle'}});
graphics.push({type: 'text', z: 101, x: 893, y: 590, style: {text: 'I', fill: BLUE, font: '28px ' + FONT, textVerticalAlign: 'middle'}});
graphics.push({type: 'text', z: 101, x: 19, y: 465, rotation: Math.PI / 2,
  style: {text: 'Yield', fill: '#000', font: '29px ' + FONT, textAlign: 'center', textVerticalAlign: 'middle'}});
// legend box
graphics.push({type: 'rect', z: 100, shape: {x: 175.5, y: 5.5, width: 575, height: 39}, style: {fill: '#fff', stroke: '#000', lineWidth: 1.5}});
graphics.push({type: 'circle', z: 101, shape: {cx: 218, cy: 25, r: 4}, style: {fill: GRAY}});
graphics.push({type: 'text', z: 101, x: 256, y: 26, style: {text: legendNames[0], fill: '#000', font: '25px ' + FONT, textVerticalAlign: 'middle'}});
graphics.push({type: 'circle', z: 101, shape: {cx: 520, cy: 25, r: 6}, style: {fill: '#fff', stroke: '#000', lineWidth: 1}});
graphics.push({type: 'text', z: 101, x: 562, y: 26, style: {text: legendNames[1], fill: '#000', font: '25px ' + FONT, textVerticalAlign: 'middle'}});

const chart = echarts.init(document.getElementById('c'), null, {renderer: 'canvas'});
chart.setOption({
  animation: false,
  backgroundColor: '#fff',
  grid: grids,
  xAxis: xAxes,
  yAxis: yAxes,
  graphic: graphics,
  series: series
});
</script></body></html>
